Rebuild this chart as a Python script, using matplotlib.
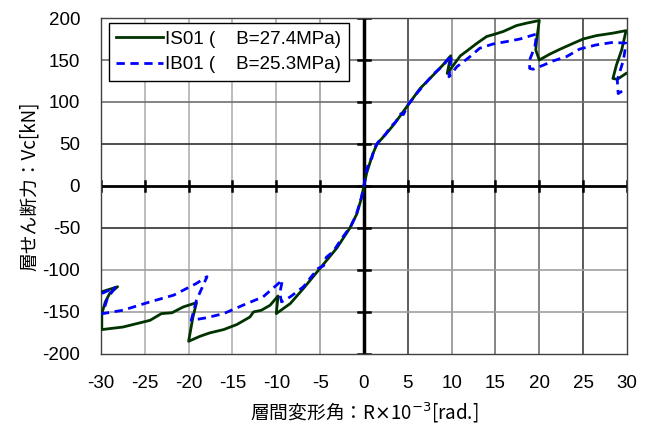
"""Shear force vs drift angle envelope for IS01 / IB01."""

import matplotlib

matplotlib.use("Agg")
import matplotlib.pyplot as plt

# IS01 (solid green): negative branch from origin outward, positive branch from origin outward
is01_neg_x = [0, -0.3, -0.8, -1.6, -3.1, -5.0, -6.9, -8.4, -10.0,
              -9.8, -10.7, -11.7, -12.6, -13.0, -14.5, -16.0, -17.6, -18.7, -20.0,
              -19.5, -19.1, -20.6, -21.9, -23.1, -24.4, -27.5, -29.9,
              -29.9, -29.5, -29.0, -28.1, -29.9]
is01_neg_y = [0, -15, -33, -50, -74, -98, -122, -140, -152,
              -131, -142, -148, -150, -156, -165, -171, -175, -179, -185,
              -156, -139, -144, -151, -152, -160, -168, -171,
              -152, -138, -128, -120, -126]
is01_pos_x = [0, 0.3, 1.0, 1.5, 2.6, 3.4, 4.1, 5.0, 6.4, 7.9, 9.0, 9.9,
              9.5, 11.0, 11.9, 12.9, 14.0, 15.0, 15.9, 17.4, 18.6, 20.0,
              19.7, 19.6, 20.0, 21.2, 22.4, 23.9, 25.0, 26.5, 28.4, 29.9,
              29.4, 28.8, 28.4, 28.9, 29.9]
is01_pos_y = [0, 15, 38, 50, 63, 73, 83, 96, 116, 132, 144, 155,
              134, 155, 162, 170, 178, 181, 184, 191, 194, 197,
              174, 162, 150, 157, 163, 170, 175, 179, 182, 185,
              162, 144, 128, 127, 134]

# IB01 (dashed blue)
ib01_neg_x = [0, -0.3, -0.9, -1.5, -2.5, -3.5, -4.3, -4.6, -5.2, -6.0, -6.9, -8.4, -9.4,
              -9.6, -9.3, -11.5, -13.8, -16.0, -18.0, -19.7,
              -19.1, -17.9, -19.1, -21.7, -24.4, -27.5, -29.8,
              -29.3, -28.4, -29.9]
ib01_neg_y = [0, -14, -35, -48, -62, -78, -85, -95, -98, -108, -120, -132, -138,
              -128, -112, -132, -142, -152, -157, -160,
              -136, -108, -116, -130, -138, -148, -152,
              -135, -121, -128]
ib01_pos_x = [0, 0.2, 0.6, 0.9, 1.2, 1.6, 2.5, 3.0, 3.6, 4.2, 4.5, 5.0, 6.0, 7.0, 8.0, 9.0, 10.0,
              9.7, 10.6, 12.1, 13.2, 14.7, 16.3, 17.8, 19.7,
              19.5, 18.9, 18.9, 19.3, 20.5, 21.6, 23.1, 24.6, 26.5, 28.4, 29.9,
              29.6, 28.9, 29.0, 29.9]
ib01_pos_y = [0, 14, 30, 33, 45, 52, 62, 70, 76, 86, 85, 96, 110, 122, 134, 143, 156,
              130, 142, 154, 164, 169, 172, 175, 181,
              166, 150, 140, 139, 144, 149, 154, 163, 168, 171, 170,
              150, 126, 110, 116]

x_ticks = list(range(-30, 31, 5))
y_ticks = list(range(-200, 201, 50))

plt.rcParams["font.family"] = ["Liberation Sans", "DejaVu Sans"]
plt.rcParams["axes.unicode_minus"] = False
fig = plt.figure(figsize=(6.47, 4.29), dpi=100)
ax = fig.add_axes([0.156, 0.175, 0.813, 0.783])

# grid, some lines darker as in the original
vgrid = {-25: "#b0b0b0", -20: "#b0b0b0", -15: "#b0b0b0", -10: "#b0b0b0", -5: "#a0a0a0",
         5: "#404040", 10: "#909090", 15: "#707070", 20: "#707070", 25: "#404040"}
hgrid = {150: "#707070", 100: "#707070", 50: "#303030", -50: "#303030",
         -100: "#a0a0a0", -150: "#a0a0a0"}
for xv, c in vgrid.items():
    ax.axvline(xv, color=c, lw=1.2, zorder=1)
for yv, c in hgrid.items():
    ax.axhline(yv, color=c, lw=1.2, zorder=1)

ax.axvline(0, color="black", lw=2.5, zorder=2)
ax.axhline(0, color="black", lw=2.0, zorder=2)
for xv in x_ticks:
    ax.plot([xv, xv], [-6, 6], color="black", lw=1.8, zorder=2)
for yv in y_ticks:
    ax.plot([-0.7, 0.7], [yv, yv], color="black", lw=1.8, zorder=2)

ax.plot(is01_neg_x[::-1] + is01_pos_x, is01_neg_y[::-1] + is01_pos_y,
        color="#003300", lw=2.0, zorder=3, label="IS01 (    B=27.4MPa)")
ax.plot(ib01_neg_x[::-1] + ib01_pos_x, ib01_neg_y[::-1] + ib01_pos_y,
        color="#0000ff", lw=2.0, ls=(0, (3, 2)), zorder=4, label="IB01 (    B=25.3MPa)")

ax.set_xlim(-30, 30)
ax.set_ylim(-200, 200)
ax.set_xticks(x_ticks)
ax.set_yticks(y_ticks)
ax.tick_params(length=0, labelsize=13.5, pad=15)
for sp in ax.spines.values():
    sp.set_color("#404040")
    sp.set_linewidth(1.0)

ax.set_xlabel("層間変形角：R$\\times$10$^{-3}$[rad.]", fontsize=13.5, labelpad=6,
              family=["Noto Sans CJK JP", "DejaVu Sans"])
ax.set_ylabel("層せん断力：Vc[kN]", fontsize=13.5, labelpad=2,
              family=["Noto Sans CJK JP", "DejaVu Sans"])

leg = ax.legend(loc="upper left", bbox_to_anchor=(0.015, 0.985), borderaxespad=0,
                fontsize=13.5, fancybox=False, framealpha=1, edgecolor="black",
                handlelength=2.5, handletextpad=0.1, borderpad=0.4, labelspacing=0.45)
leg.get_frame().set_linewidth(1.0)
leg.set_zorder(5)

fig.savefig("out.png", dpi=100)
plt.close(fig)
